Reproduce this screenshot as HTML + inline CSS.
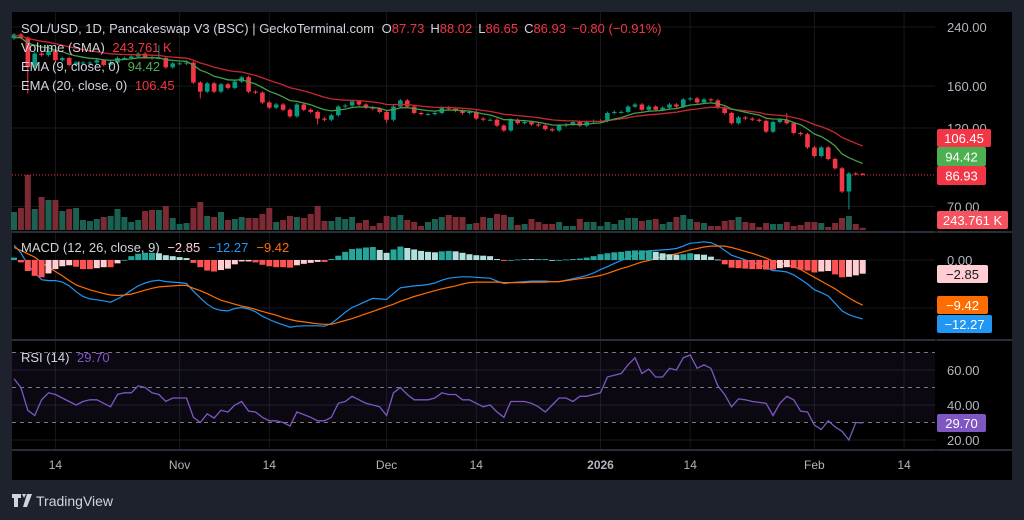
<!DOCTYPE html>
<html><head><meta charset="utf-8">
<style>
html,body{margin:0;padding:0;background:#1e222d;}
svg{display:block;font-family:"Liberation Sans",sans-serif;}
</style></head>
<body>
<svg id="c" width="1024" height="520" viewBox="0 0 1024 520" xmlns="http://www.w3.org/2000/svg">
<rect x="0" y="0" width="1024" height="520" fill="#1e222d"/>
<rect x="12" y="12" width="1000" height="468" fill="#000000"/>
<g id="grid"></g>
<rect x="12" y="352" width="923" height="70" fill="#7e57c2" fill-opacity="0.09"/>
<g id="vol"></g>
<g id="cand"></g>
<g id="lines"></g>
<g id="hist"></g>
<g id="axes"></g>
<g id="legend" font-size="13">
  <text x="21" y="33" fill="#d1d4dc">SOL/USD, 1D, Pancakeswap V3 (BSC) | GeckoTerminal.com <tspan dx="4">O</tspan><tspan fill="#f23645">87.73</tspan><tspan dx="6">H</tspan><tspan fill="#f23645">88.02</tspan><tspan dx="6">L</tspan><tspan fill="#f23645">86.65</tspan><tspan dx="6">C</tspan><tspan fill="#f23645">86.93</tspan><tspan dx="6" fill="#f23645">−0.80 (−0.91%)</tspan></text>
  <text x="21" y="52" fill="#d1d4dc">Volume (SMA) <tspan dx="4" fill="#f23645">243.761 K</tspan></text>
  <text x="21" y="71" fill="#d1d4dc">EMA (9, close, 0) <tspan dx="4" fill="#4caf50">94.42</tspan></text>
  <text x="21" y="90" fill="#d1d4dc">EMA (20, close, 0) <tspan dx="4" fill="#f23645">106.45</tspan></text>
  <text x="21" y="252" fill="#d1d4dc">MACD (12, 26, close, 9) <tspan dx="4" fill="#ffcdd2">−2.85</tspan><tspan dx="8" fill="#2196f3">−12.27</tspan><tspan dx="8" fill="#ff6d00">−9.42</tspan></text>
  <text x="21" y="362" fill="#d1d4dc">RSI (14) <tspan dx="4" fill="#7e57c2">29.70</tspan></text>
</g>
<g id="tv">
  <path d="M12 494h9v4h-3v9h-4v-9h-2z M22 494h4l-2 4z M27 494h5l-5 13h-4z" fill="#d1d4dc"/>
  <text x="36" y="506" font-size="14" fill="#d1d4dc">TradingView</text>
</g>
</svg>
<script>
const closes=[228,223,182,200,198,204,191,194,185,188,188,188,191,185,188,194,194,196,200,195,194,194,182,187,187,188,164,154,163,154,162,158,165,170,154,153,143,138,141,136,130,141,136,134,128,127,131,139,140,144,141,138,137,134,127,139,145,139,133,132,132,133,138,137,135,133,134,128,127,127,122,118,127,124,125,123,122,119,118,122,123,125,122,125,126,126,133,134,134,139,141,136,139,136,138,141,139,146,147,143,146,145,138,133,124,129,128,127,126,117,125,127,124,116,115,105,99,105,97,91,77.6,87.8,87.73,86.93];
const firstOpen=222;
const volumes=[1980,2420,6050,2310,3630,3300,3300,2090,2310,2420,1100,990,1210,1430,1540,2310,1430,880,1100,2090,2200,2200,2640,1320,660,770,2420,3080,1540,1430,1980,1100,1210,1430,1320,1320,1760,2420,880,1100,1540,1430,1320,1760,2640,990,990,1430,1210,1430,770,1100,440,770,1540,1430,1650,1100,880,440,880,1210,1430,1650,1430,1430,660,770,1430,1320,1760,1650,1430,550,660,1210,880,660,660,880,440,440,1210,880,880,440,880,660,1100,1320,1320,990,1100,1210,660,880,1430,1650,1210,880,770,440,440,990,1100,1430,880,770,330,770,660,660,880,440,550,880,880,770,330,770,1320,1540,660,244];
const lowMarks={2:152,27:147,44:123,54:124,121:68.6,123:86.65};
const highMarks={21:212,112:133,123:88.02};
const macd=[3.1,1.5,-1.0,-2.7,-4.1,-4.3,-4.3,-4.6,-5.4,-6.6,-7.6,-8.1,-8.3,-8.5,-8.8,-8.1,-7.3,-6.3,-5.4,-4.8,-4.4,-4.2,-4.5,-4.6,-4.7,-4.9,-6.5,-7.9,-9.2,-10.1,-10.5,-10.6,-10.1,-9.9,-10.2,-10.8,-11.7,-12.4,-13.0,-13.5,-14.0,-13.8,-13.7,-13.7,-13.7,-13.8,-13.2,-12.1,-10.9,-9.9,-9.3,-8.6,-8.0,-8.1,-8.2,-7.0,-5.8,-5.6,-5.4,-5.3,-5.1,-4.8,-4.2,-3.8,-3.6,-3.5,-3.5,-3.6,-3.7,-3.8,-4.4,-4.9,-4.7,-4.6,-4.5,-4.4,-4.4,-4.4,-4.5,-4.5,-4.2,-3.9,-3.6,-3.2,-2.7,-2.0,-1.4,-0.7,-0.1,0.5,1.1,1.6,1.9,2.0,2.1,2.2,2.4,2.9,3.5,3.6,3.8,3.6,3.0,2.0,1.0,0.5,0.0,-0.5,-1.0,-1.6,-2.2,-2.3,-2.5,-3.1,-4.0,-5.0,-6.2,-6.8,-7.5,-9.0,-10.6,-11.4,-11.9,-12.27];
const signal=[2.6,2.0,1.3,0.6,-0.5,-1.5,-2.4,-3.3,-4.3,-5.2,-5.7,-6.2,-6.6,-7.0,-7.3,-7.4,-7.3,-7.1,-6.7,-6.3,-5.9,-5.6,-5.5,-5.4,-5.3,-5.3,-5.9,-6.4,-7.0,-7.7,-8.4,-8.8,-9.2,-9.6,-9.9,-10.3,-10.7,-11.1,-11.5,-12.0,-12.4,-12.7,-12.9,-13.1,-13.3,-13.4,-13.4,-13.0,-12.6,-12.2,-11.7,-11.2,-10.7,-10.2,-9.7,-9.2,-8.6,-8.1,-7.6,-7.2,-6.8,-6.4,-6.0,-5.7,-5.4,-5.0,-4.7,-4.6,-4.6,-4.6,-4.6,-4.7,-4.7,-4.7,-4.7,-4.6,-4.6,-4.6,-4.5,-4.5,-4.3,-4.1,-3.9,-3.7,-3.5,-3.2,-2.8,-2.3,-1.8,-1.4,-0.9,-0.4,-0.1,0.3,0.7,1.0,1.3,1.7,2.1,2.4,2.7,2.9,2.9,2.9,2.6,2.2,1.8,1.4,0.9,0.4,-0.2,-0.6,-1.0,-1.4,-2.0,-2.8,-3.6,-4.4,-5.2,-6.0,-7.0,-7.9,-8.7,-9.42];
const rsi=[55,50,37,34,43,47,46,44,42,40,42,43,43,41,39,46,47,47,51,50,47,46,42,44,44,44,33,30,35,32.5,37,36,40,42,36.5,36,33,31,31,30,28,36,34.5,33,31,31,33,41,42,45,43,41,40,39,34,47,50,46,43,43,43,44,47,46,46,43,43,41,39,40,36,33,42,42,42,41,39,36,40,44,44,42,45,45,46,47,56,57,58,63,67,58,60.5,56,56,61,60,67,68.6,61,63,61,51,46,39,43.5,43,42,41.5,41,34,41,45,43,36.5,36,28.5,26,31,27.5,25,20,30,29.7];
const priceTicks=[240,160,120,70];
const macdTicks=[0];
const rsiTicks=[60,40,20];
const dateLabels=["14","Nov","14","Dec","14","2026","14","Feb","14"];
const dateIdx=[6,24,37,54,67,85,98,116,129];

const NS="http://www.w3.org/2000/svg";
function el(tag,attrs,parent){const e=document.createElementNS(NS,tag);for(const k in attrs)e.setAttribute(k,attrs[k]);parent.appendChild(e);return e;}
const X=i=>14+i*6.9;
const PY=p=>27+(Math.log(240)-Math.log(p))*145.7;
const VY=v=>230-v/110;
const MY=v=>260-v*4.8;
const RY=r=>440-(r-20)*1.75;
const PLOT_R=935;
const grid=document.getElementById('grid'),axes=document.getElementById('axes');

// grid
dateIdx.forEach((d,k)=>{
  const g=el('line',{x1:X(d),x2:X(d),y1:12,y2:450,stroke:'#16181f','stroke-width':1},grid);
  
  
  const t=el('text',{x:X(d),y:469,fill:'#b2b5be','font-size':12,'text-anchor':'middle','font-weight':dateLabels[k]==='2026'?'bold':'normal'},axes);
  t.textContent=dateLabels[k];
  
  
});
priceTicks.forEach(p=>{
  const g=el('line',{x1:12,x2:PLOT_R,y1:PY(p),y2:PY(p),stroke:'#16181f'},grid);
  
  
  const t=el('text',{x:947,y:PY(p)+5,fill:'#b2b5be','font-size':13},axes);
  t.textContent=p.toFixed(2);
  
  
});
[0,-10].forEach(v=>{
  const g=el('line',{x1:12,x2:PLOT_R,y1:MY(v),y2:MY(v),stroke:'#16181f'},grid);
  
  
});
macdTicks.forEach(v=>{
  const t=el('text',{x:947,y:MY(v)+5,fill:'#b2b5be','font-size':13},axes);
  t.textContent=v.toFixed(2);
  
  
});
rsiTicks.forEach(v=>{
  const g=el('line',{x1:12,x2:PLOT_R,y1:RY(v),y2:RY(v),stroke:'#1a1c24'},grid);
  
  
  const t=el('text',{x:947,y:RY(v)+5,fill:'#b2b5be','font-size':13},axes);
  t.textContent=v.toFixed(2);
  
  
});
[70,50,30].forEach(v=>{
  const g=el('line',{x1:12,x2:PLOT_R,y1:RY(v),y2:RY(v),stroke:'#787b86','stroke-dasharray':'4 4','stroke-width':1},grid);
  
  
});
// panel separators
[232,340,450].forEach(y=>{
  const s=el('line',{x1:12,x2:1012,y1:y,y2:y,stroke:'#2a2e39','stroke-width':2},grid);
  
  
});
const ax=el('line',{x1:PLOT_R+1,x2:PLOT_R+1,y1:12,y2:450,stroke:'#000'},grid);



// volume
const vol=document.getElementById('vol');
volumes.forEach((v,i)=>{
  const o=i===0?firstOpen:closes[i-1];const up=closes[i]>=o;
  const r=el('rect',{x:X(i)-3,y:VY(v),width:6,height:230-VY(v),fill:up?'#1c6052':'#7c2a33'},vol);
  
  
});
// last price line
const lp=el('line',{x1:12,x2:PLOT_R,y1:PY(closes[closes.length-1]),y2:PY(closes[closes.length-1]),stroke:'#f23645','stroke-dasharray':'1 2','stroke-width':1},vol);



// candles
const cand=document.getElementById('cand');
closes.forEach((c,i)=>{
  const o=i===0?firstOpen:closes[i-1];const up=c>=o;const col=up?'#089981':'#f23645';
  const hi=highMarks[i]!==undefined?highMarks[i]:Math.max(o,c)*1.01;
  const lo=lowMarks[i]!==undefined?lowMarks[i]:Math.min(o,c)*0.99;
  const w=el('line',{x1:X(i),x2:X(i),y1:PY(hi),y2:PY(lo),stroke:col,'stroke-width':1},cand);
  
  
  const yt=PY(Math.max(o,c)),yb=PY(Math.min(o,c));
  const b=el('rect',{x:X(i)-2.3,y:yt,width:4.6,height:Math.max(1,yb-yt),fill:col},cand);
  
  
});

// EMAs
function ema(arr,n,seed){const k=2/(n+1);let e=seed;return arr.map(v=>(e=v*k+e*(1-k)));}
const ema9=ema(closes,9,222),ema20=ema(closes,20,226);
const lines=document.getElementById('lines');
function poly(vals,fy,col,name,w){
  const p=el('polyline',{points:vals.map((v,i)=>X(i).toFixed(1)+','+fy(v).toFixed(1)).join(' '),fill:'none',stroke:col,'stroke-width':w||1.3},lines);
  
  
}
poly(ema20,PY,'#c62833','ema20-line');
poly(ema9,PY,'#43a047','ema9-line');

// MACD histogram
const hist=document.getElementById('hist');
macd.forEach((m,i)=>{
  const h=m-signal[i];const prev=i===0?h:macd[i-1]-signal[i-1];
  let col;
  if(h>=0)col=h>=prev?'#26a69a':'#b2dfdb';else col=h<=prev?'#ff5252':'#ffcdd2';
  const y0=MY(0),y1=MY(h);
  const r=el('rect',{x:X(i)-3,y:Math.min(y0,y1),width:6,height:Math.max(0.8,Math.abs(y1-y0)),fill:col},hist);
  
  
});
poly(macd,MY,'#2196f3','macd-line',1.2);
poly(signal,MY,'#ff6d00','signal-line',1.2);
poly(rsi,RY,'#7e57c2','rsi-line',1.3);

// axis value boxes
function box(x,y,w,h,bg,fg,txt,name){
  const g=el('g',{},axes);
  
  
  el('rect',{x:x,y:y,width:w,height:h,rx:2,fill:bg},g);
  const t=el('text',{x:x+w/2,y:y+h/2+5,fill:fg,'font-size':13,'text-anchor':'middle'},g);
  t.textContent=txt;
}
box(937,129,54,18,'#f23645','#ffffff','106.45','ema20-value-label');
box(937,147,49,19,'#4caf50','#ffffff','94.42','ema9-value-label');
box(937,166,49,19,'#f23645','#ffffff','86.93','last-price-label');
box(937,211,71,18,'#f7525f','#ffffff','243.761 K','volume-value-label');
box(937,265,51,18,'#ffcdd2','#131722','−2.85','histogram-value-label');
box(937,296,51,18,'#ff6d00','#ffffff','−9.42','signal-value-label');
box(937,315,55,18,'#2196f3','#ffffff','−12.27','macd-value-label');
box(937,414,49,18,'#7e57c2','#ffffff','29.70','rsi-value-label');
</script>
</body></html>
